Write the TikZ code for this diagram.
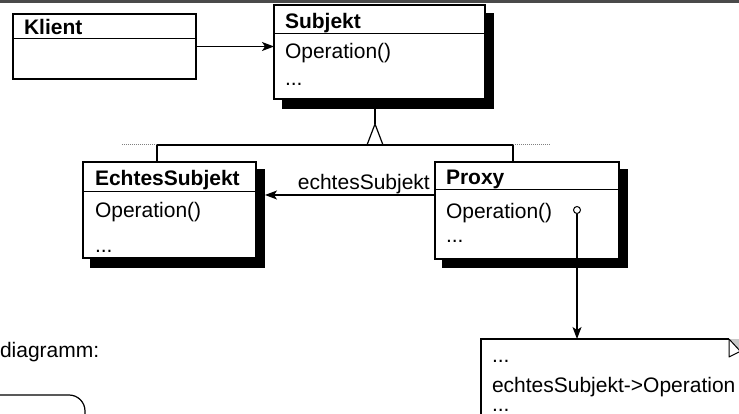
\documentclass[tikz,border=0pt]{standalone}
\usepackage{fontspec}
\setmainfont{Liberation Sans}
\usetikzlibrary{arrows.meta}
\definecolor{topbar}{HTML}{4A4A4A}
\definecolor{earfill}{HTML}{C8C8C8}
\begin{document}
\begin{tikzpicture}[x=1pt,y=-1pt,
  font=\fontsize{21}{25}\selectfont,
  box/.style={draw=black,line width=1.2pt,fill=white,inner sep=0pt,outer sep=0pt},
  shadowfill/.style={fill=black},
  txt/.style={anchor=base west,inner sep=0pt,outer sep=0pt},
  btxt/.style={txt,font=\fontsize{21}{25}\selectfont\bfseries},
  conn/.style={line width=1.2pt},
  divider/.style={line width=1pt},
  dotline/.style={line width=1pt,gray,dash pattern=on 1pt off 1pt},
  arr/.style={conn,-{Stealth[length=12pt,width=9pt,inset=3pt]}},
]
\useasboundingbox (0,0) rectangle (739,414);
\clip (0,0) rectangle (739,414);
\fill[topbar] (0,0) rectangle (739,3);

% shadows
\fill[shadowfill] (282,13) rectangle (494,109);
\fill[shadowfill] (90,169) rectangle (265,268);
\fill[shadowfill] (442,169) rectangle (628,268);

% Klient
\node[box,minimum width=183pt,minimum height=65pt] (klient) at (104.5,46.5) {};
\draw[divider] (klient.west |- 0,39) -- (klient.east |- 0,39);
\node[btxt] (tklient) at (24,35) {Klient};

% Subjekt
\node[box,minimum width=211pt,minimum height=94pt] (subj) at (379.5,52) {};
\draw[divider] (subj.west |- 0,34) -- (subj.east |- 0,34);
\node[btxt] (tsubj) at (285,29) {Subjekt};
\node[txt] (tsop) at (285,59) {Operation()};
\node[txt] (tsdots) at (285,86) {...};

% EchtesSubjekt
\node[box,minimum width=173pt,minimum height=96pt] (echtes) at (169.5,210) {};
\draw[divider] (echtes.west |- 0,192) -- (echtes.east |- 0,192);
\node[btxt] (techtes) at (95,186) {EchtesSubjekt};
\node[txt] (teop) at (95,218) {Operation()};
\node[txt] (tedots) at (95,253) {...};

% Proxy
\node[box,minimum width=184pt,minimum height=97pt] (proxy) at (527,210.5) {};
\draw[divider] (proxy.west |- 0,190) -- (proxy.east |- 0,190);
\node[btxt] (tproxy) at (446,185) {Proxy};
\node[txt] (tpop) at (446,219) {Operation()};
\node[txt] (tpdots) at (446,243) {...};

% Klient -> Subjekt
\draw[arr] (klient.east) -- (klient.east -| subj.west);

% inheritance
\coordinate (apex) at (375,124);
\coordinate (busL) at (157,145);
\coordinate (busR) at (513,145);
\draw[conn] (subj.south -| apex) -- (apex);
\draw[conn,line join=miter] (apex) -- (367,145) -- (383,145) -- cycle;
\draw[conn] (busL) -- (busR);
\draw[conn] (busL) -- (busL |- echtes.north);
\draw[conn] (busR) -- (busR |- proxy.north);
\draw[dotline] (busL) -- ++(-35,0);
\draw[dotline] (busR) -- ++(37,0);

% echtesSubjekt association
\coordinate (estip) at (265,195);
\draw[arr] (proxy.west |- estip) -- (estip);
\node[anchor=base east,inner sep=0pt] (eslabel) at (430,190) {echtesSubjekt};

% note
\node[box,minimum width=280pt,minimum height=110pt,anchor=north west] (note) at (481,339) {};
\fill[white] (728.5,336) rectangle (741,360);
\fill[earfill] (729,339) -- (741,339) -- (741,352) -- cycle;
\draw[line width=1pt,line join=round] (729,339) -- (741,352);
\draw[line width=1pt,line join=round] (729,339) -- (729,357) -- (741,351);
\node[txt] (tndots1) at (492,362) {...};
\node[txt] (tnop) at (492,392) {echtesSubjekt->Operation};
\node[txt] (tndots2) at (492,411) {...};

% proxy operation -> note
\node[circle,draw,fill=white,line width=1pt,minimum size=7pt,inner sep=0pt] (dot) at (577,210) {};
\draw[arr] (dot.south) -- (dot.south |- note.north);

% lower left fragment
\node[txt] (diag) at (0,357) {diagramm:};
\draw[conn,rounded corners=16pt] (-20,395) -- (85,395) -- (85,440);
\end{tikzpicture}
\end{document}
